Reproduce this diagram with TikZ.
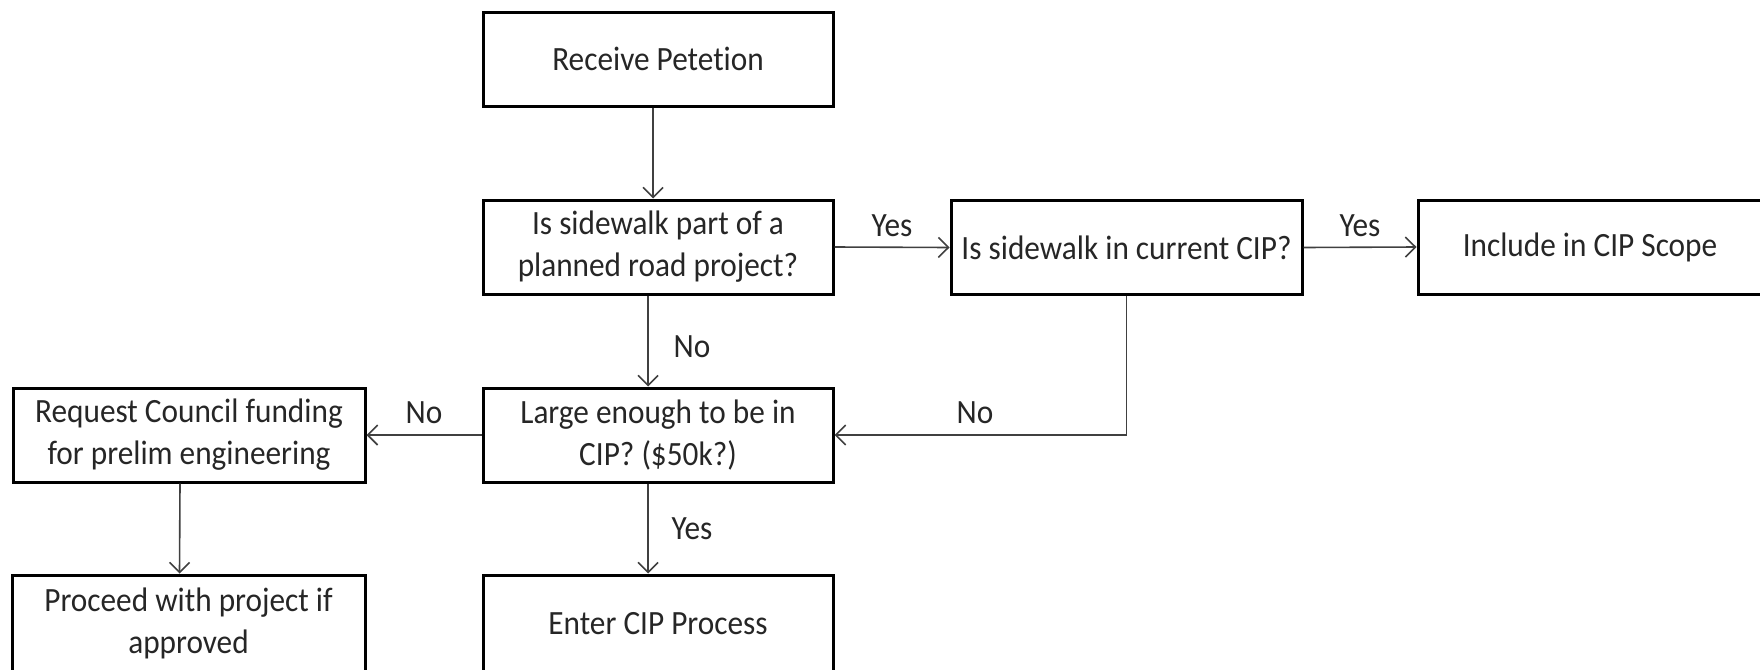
\documentclass[tikz,border=0pt]{standalone}
\usepackage{fontspec}
\setmainfont{Carlito}[FakeStretch=0.92, Ligatures={NoCommon}]
\usetikzlibrary{arrows.meta}
\begin{document}
\begin{tikzpicture}[x=0.5pt,y=-0.5pt,
 box/.style={draw=black, line width=1.5pt, minimum width=175pt, minimum height=47pt, align=center, inner sep=0pt, text=black!85, font=\fontsize{17}{21}\selectfont},
 conn/.style={draw=black!75, line width=0.8pt, -{Straight Barb[length=5pt,width=10pt]}},
 lbl/.style={text=black!85, font=\fontsize{17}{21}\selectfont, inner sep=0pt}]
\useasboundingbox (0,0) rectangle (1760,669);
\node[box] (rec) at (658,59) {Receive Petetion};
\node[box] (q1) at (658,247) {Is sidewalk part of a\\planned road project?};
\node[box, minimum width=175.5pt] (cip) at (1126.5,247.5) {Is sidewalk in current CIP?};
\node[box, minimum width=172pt] (inc) at (1590,247) {Include in CIP Scope};
\node[box] (large) at (658,435) {Large enough to be in\\CIP? (\$50k?)};
\node[box, minimum width=176pt] (req) at (189,435) {Request Council funding\\for prelim engineering};
\node[box, minimum width=176.5pt, minimum height=48.5pt] (proc) at (188.5,623.5) {Proceed with project if\\approved};
\node[box, minimum height=48.5pt] (ent) at (658,623.5) {Enter CIP Process};

\draw[conn] ([xshift=-2.5pt]rec.south) -- ([xshift=-2.5pt]q1.north);
\draw[conn] (q1.east) -- (cip.west) node[lbl, midway, yshift=11pt] {Yes};
\draw[conn] (cip.east) -- (inc.west) node[lbl, midway, yshift=11pt] {Yes};
\draw[conn] ([xshift=-5pt]q1.south) -- ([xshift=-5pt]large.north) node[lbl, midway, xshift=22pt, yshift=-2.75pt] {No};
\draw[conn] (cip.south) |- (large.east) node[lbl, pos=0.75, xshift=-2.75pt, yshift=11pt] {No};
\draw[conn] (large.west) -- (req.east) node[lbl, midway, yshift=11pt] {No};
\draw[conn] ([xshift=-5pt]large.south) -- ([xshift=-5pt]ent.north) node[lbl, midway, xshift=22pt] {Yes};
\draw[conn] ([xshift=-4.5pt]req.south) -- ([xshift=-4.5pt]proc.north);
\end{tikzpicture}
\end{document}
